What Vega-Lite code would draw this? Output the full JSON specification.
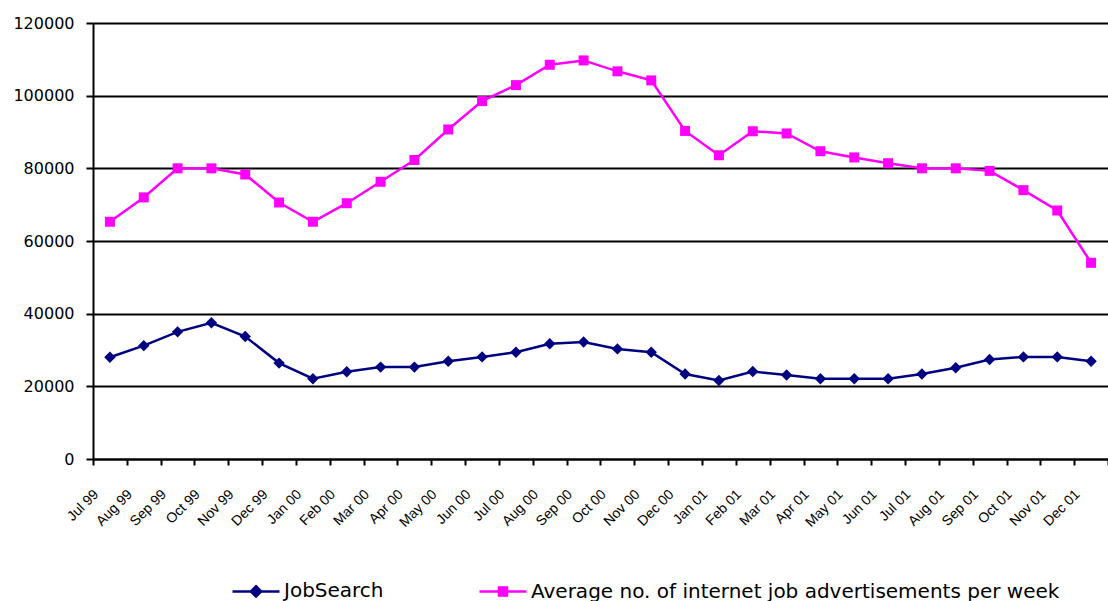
{
  "$schema": "https://vega.github.io/schema/vega-lite/v6.json",
  "width": 1015,
  "height": 436,
  "autosize": {"type": "none"},
  "padding": {"left": 93, "top": 23, "right": 0, "bottom": 142},
  "background": "white",
  "config": {"view": {"stroke": null}, "font": "Liberation Sans"},
  "data": {
    "values": [
      {"month": "Jul 99", "series": "JobSearch", "value": 28000},
      {"month": "Aug 99", "series": "JobSearch", "value": 31200},
      {"month": "Sep 99", "series": "JobSearch", "value": 35000},
      {"month": "Oct 99", "series": "JobSearch", "value": 37500},
      {"month": "Nov 99", "series": "JobSearch", "value": 33700},
      {"month": "Dec 99", "series": "JobSearch", "value": 26400},
      {"month": "Jan 00", "series": "JobSearch", "value": 22100},
      {"month": "Feb 00", "series": "JobSearch", "value": 24000},
      {"month": "Mar 00", "series": "JobSearch", "value": 25300},
      {"month": "Apr 00", "series": "JobSearch", "value": 25300},
      {"month": "May 00", "series": "JobSearch", "value": 26900},
      {"month": "Jun 00", "series": "JobSearch", "value": 28100},
      {"month": "Jul 00", "series": "JobSearch", "value": 29400},
      {"month": "Aug 00", "series": "JobSearch", "value": 31700},
      {"month": "Sep 00", "series": "JobSearch", "value": 32200},
      {"month": "Oct 00", "series": "JobSearch", "value": 30300},
      {"month": "Nov 00", "series": "JobSearch", "value": 29400},
      {"month": "Dec 00", "series": "JobSearch", "value": 23400},
      {"month": "Jan 01", "series": "JobSearch", "value": 21600},
      {"month": "Feb 01", "series": "JobSearch", "value": 24100},
      {"month": "Mar 01", "series": "JobSearch", "value": 23100},
      {"month": "Apr 01", "series": "JobSearch", "value": 22100},
      {"month": "May 01", "series": "JobSearch", "value": 22100},
      {"month": "Jun 01", "series": "JobSearch", "value": 22100},
      {"month": "Jul 01", "series": "JobSearch", "value": 23400},
      {"month": "Aug 01", "series": "JobSearch", "value": 25100},
      {"month": "Sep 01", "series": "JobSearch", "value": 27400},
      {"month": "Oct 01", "series": "JobSearch", "value": 28100},
      {"month": "Nov 01", "series": "JobSearch", "value": 28100},
      {"month": "Dec 01", "series": "JobSearch", "value": 26900},
      {"month": "Jul 99", "series": "Average no. of internet job advertisements per week", "value": 65300},
      {"month": "Aug 99", "series": "Average no. of internet job advertisements per week", "value": 72000},
      {"month": "Sep 99", "series": "Average no. of internet job advertisements per week", "value": 80000},
      {"month": "Oct 99", "series": "Average no. of internet job advertisements per week", "value": 80000},
      {"month": "Nov 99", "series": "Average no. of internet job advertisements per week", "value": 78300},
      {"month": "Dec 99", "series": "Average no. of internet job advertisements per week", "value": 70600},
      {"month": "Jan 00", "series": "Average no. of internet job advertisements per week", "value": 65300},
      {"month": "Feb 00", "series": "Average no. of internet job advertisements per week", "value": 70400},
      {"month": "Mar 00", "series": "Average no. of internet job advertisements per week", "value": 76300},
      {"month": "Apr 00", "series": "Average no. of internet job advertisements per week", "value": 82300},
      {"month": "May 00", "series": "Average no. of internet job advertisements per week", "value": 90700},
      {"month": "Jun 00", "series": "Average no. of internet job advertisements per week", "value": 98500},
      {"month": "Jul 00", "series": "Average no. of internet job advertisements per week", "value": 102900},
      {"month": "Aug 00", "series": "Average no. of internet job advertisements per week", "value": 108500},
      {"month": "Sep 00", "series": "Average no. of internet job advertisements per week", "value": 109700},
      {"month": "Oct 00", "series": "Average no. of internet job advertisements per week", "value": 106700},
      {"month": "Nov 00", "series": "Average no. of internet job advertisements per week", "value": 104200},
      {"month": "Dec 00", "series": "Average no. of internet job advertisements per week", "value": 90300},
      {"month": "Jan 01", "series": "Average no. of internet job advertisements per week", "value": 83600},
      {"month": "Feb 01", "series": "Average no. of internet job advertisements per week", "value": 90200},
      {"month": "Mar 01", "series": "Average no. of internet job advertisements per week", "value": 89600},
      {"month": "Apr 01", "series": "Average no. of internet job advertisements per week", "value": 84700},
      {"month": "May 01", "series": "Average no. of internet job advertisements per week", "value": 83000},
      {"month": "Jun 01", "series": "Average no. of internet job advertisements per week", "value": 81400},
      {"month": "Jul 01", "series": "Average no. of internet job advertisements per week", "value": 80000},
      {"month": "Aug 01", "series": "Average no. of internet job advertisements per week", "value": 80000},
      {"month": "Sep 01", "series": "Average no. of internet job advertisements per week", "value": 79300},
      {"month": "Oct 01", "series": "Average no. of internet job advertisements per week", "value": 74000},
      {"month": "Nov 01", "series": "Average no. of internet job advertisements per week", "value": 68400},
      {"month": "Dec 01", "series": "Average no. of internet job advertisements per week", "value": 54000}
    ]
  },
  "encoding": {
    "x": {
      "field": "month",
      "type": "nominal",
      "sort": null,
      "scale": {"type": "band", "paddingInner": 0, "paddingOuter": 0},
      "axis": {
        "title": null,
        "tickBand": "extent",
        "grid": false,
        "domainColor": "black",
        "domainWidth": 2,
        "tickColor": "black",
        "tickWidth": 2,
        "tickSize": 6,
        "labelAngle": -45,
        "labelAlign": "right",
        "labelBaseline": "middle",
        "labelFont": "Liberation Sans",
        "labelFontSize": 14,
        "labelColor": "black",
        "labelPadding": 27,
        "labelOffset": -14,
        "labelOverlap": false,
        "labelBound": false
      }
    },
    "y": {
      "field": "value",
      "type": "quantitative",
      "scale": {"domain": [0, 120000], "nice": false, "zero": true},
      "axis": {
        "title": null,
        "values": [0, 20000, 40000, 60000, 80000, 100000, 120000],
        "format": "d",
        "grid": true,
        "gridColor": "black",
        "gridWidth": 2,
        "gridOpacity": 1,
        "domainColor": "black",
        "domainWidth": 2,
        "tickColor": "black",
        "tickWidth": 2,
        "tickSize": 7,
        "labelFont": "DejaVu Sans",
        "labelFontSize": 16,
        "labelColor": "black",
        "labelPadding": 12
      }
    },
    "color": {
      "field": "series",
      "type": "nominal",
      "scale": {
        "domain": ["JobSearch", "Average no. of internet job advertisements per week"],
        "range": ["#000080", "#FF00FF"]
      },
      "legend": {
        "orient": "none",
        "legendX": 138,
        "legendY": 543,
        "direction": "horizontal",
        "columns": 2,
        "title": null,
        "symbolType": "M-1,0H1",
        "symbolSize": 2209,
        "symbolStrokeWidth": 2.5,
        "labelFont": "DejaVu Sans",
        "labelFontSize": 20,
        "labelColor": "black",
        "labelOffset": 3,
        "labelLimit": 0,
        "columnPadding": 90,
        "padding": 0,
        "encode": {
          "symbols": {
            "update": {
              "shape": {"signal": "datum.value === 'JobSearch' ? 'M-1,0H1M0,-0.22L0.22,0L0,0.22L-0.22,0Z' : 'M-1,0H1M-0.17,-0.17H0.17V0.17H-0.17Z'"},
              "fill": {"signal": "datum.value === 'JobSearch' ? '#000080' : '#FF00FF'"},
              "stroke": {"signal": "datum.value === 'JobSearch' ? '#000080' : '#FF00FF'"},
              "opacity": {"value": 1}
            }
          }
        }
      }
    }
  },
  "layer": [
    {
      "mark": {"type": "line", "strokeWidth": 2.5}
    },
    {
      "transform": [{"filter": "datum.series === 'JobSearch'"}],
      "mark": {"type": "point", "filled": true, "opacity": 1, "shape": "diamond", "size": 130}
    },
    {
      "transform": [{"filter": "datum.series !== 'JobSearch'"}],
      "mark": {"type": "point", "filled": true, "opacity": 1, "shape": "square", "size": 100}
    }
  ]
}
